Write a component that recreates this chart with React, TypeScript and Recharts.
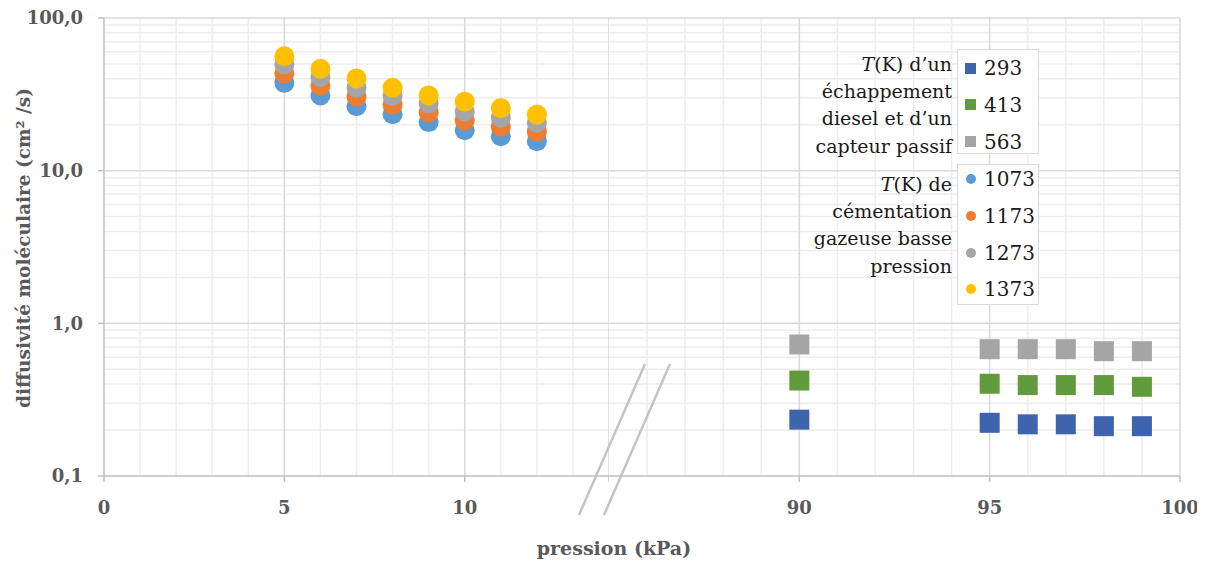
import { ReferenceLine, Scatter, ScatterChart, XAxis, YAxis } from "recharts";

// pressions basses (cémentation gazeuse basse pression)
const pressionBasse = [5, 6, 7, 8, 9, 10, 11, 12];
const d1073 = [37.6, 31.1, 26.4, 23.4, 20.8, 18.4, 16.8, 15.6];
const d1173 = [43.4, 36.0, 30.5, 27.0, 24.0, 21.3, 19.4, 18.0];
const d1273 = [49.7, 41.1, 34.9, 30.9, 27.5, 24.3, 22.2, 20.6];
const d1373 = [56.2, 46.5, 40.2, 34.9, 31.1, 28.3, 25.7, 23.3];

// pressions proches de l'atmosphère (échappement diesel, capteur passif)
const pressionHaute = [90, 95, 96, 97, 98, 99];
const d293 = [0.234, 0.223, 0.218, 0.218, 0.212, 0.212];
const d413 = [0.422, 0.402, 0.394, 0.394, 0.394, 0.384];
const d563 = [0.727, 0.677, 0.677, 0.677, 0.657, 0.657];

const yTicks = [0.1, 1, 10, 100];
const xTicksBas = [0, 5, 10, 14];
const xTicksHaut = [90, 95, 100];

const FONT = "'DejaVu Serif', serif";
const AXIS = "#BFBFBF";
const GRID = "#EDEDED";
const GRID_MAJ = "#D9D9D9";
const TXT = "#595959";

const seriesCercles = [
  { name: "1073", color: "#5B9BD5", values: d1073 },
  { name: "1173", color: "#ED7D31", values: d1173 },
  { name: "1273", color: "#A5A5A5", values: d1273 },
  { name: "1373", color: "#FFC000", values: d1373 },
];
const seriesCarres = [
  { name: "293", color: "#3F64AE", values: d293 },
  { name: "413", color: "#629B3E", values: d413 },
  { name: "563", color: "#A5A5A5", values: d563 },
];

const minorY = [0.1, 1, 10].flatMap((d) => [2, 3, 4, 5, 6, 7, 8, 9].map((k) => +(k * d).toFixed(2)));
const range = (a: number, b: number) => Array.from({ length: b - a + 1 }, (_, i) => a + i);

const fmtY = (v: number) => v.toFixed(1).replace(".", ",");
const tickStyle = { fill: TXT, fontSize: 18, fontWeight: 700, fontFamily: FONT };

const circle = (color: string) => (p: any) => <circle cx={p.cx} cy={p.cy} r={10} fill={color} />;
const square = (color: string) => (p: any) => <rect x={p.cx - 10} y={p.cy - 10} width={20} height={20} fill={color} />;

function Grid({ minorX, majorX }: { minorX: number[]; majorX: number[] }) {
  return (
    <>
      {minorX.map((v) => <ReferenceLine key={"mx" + v} x={v} stroke={GRID} strokeWidth={1.5} />)}
      {minorY.map((v) => <ReferenceLine key={"my" + v} y={v} stroke={GRID} strokeWidth={1.5} />)}
      {majorX.map((v) => <ReferenceLine key={"Mx" + v} x={v} stroke={GRID_MAJ} strokeWidth={1.5} />)}
      {[1, 10, 100].map((v) => <ReferenceLine key={"My" + v} y={v} stroke={GRID_MAJ} strokeWidth={1.5} />)}
    </>
  );
}

type LegendProps = {
  top: number;
  height: number;
  first: number;
  labelTop: number;
  label: string[];
  items: typeof seriesCarres;
  shape: "sq" | "ci";
};

function LegendBlock({ top, height, first, labelTop, label, items, shape }: LegendProps) {
  const step = 36.8;
  return (
    <>
      <div style={{ position: "absolute", left: 957, top, width: 82, height, border: "1.5px solid #D9D9D9", boxSizing: "border-box", background: "#fff" }}>
        {items.map((s, i) => (
          <div key={s.name} style={{ position: "absolute", left: 0, top: first + i * step - 15, height: 30, display: "flex", alignItems: "center", paddingLeft: shape === "sq" ? 7 : 8 }}>
            <span style={{ width: shape === "sq" ? 11 : 10, height: shape === "sq" ? 11 : 10, borderRadius: shape === "sq" ? 0 : "50%", background: s.color, display: "inline-block" }} />
            <span style={{ marginLeft: 8, fontSize: 20, color: "#1a1a1a" }}>{s.name}</span>
          </div>
        ))}
      </div>
      <div style={{ position: "absolute", right: 1205 - 952, top: labelTop, textAlign: "right", fontSize: 19, lineHeight: "27.2px", color: "#1a1a1a", whiteSpace: "nowrap" }}>
        {label.map((l, i) => (
          <div key={i}>{i === 0 ? <><i>T</i>{l}</> : l}</div>
        ))}
      </div>
    </>
  );
}

export default function App() {
  const bas = seriesCercles.map((s) => ({ ...s, data: pressionBasse.map((x, i) => ({ x, y: s.values[i] })) }));
  const haut = seriesCarres.map((s) => ({ ...s, data: pressionHaute.map((x, i) => ({ x, y: s.values[i] })) }));

  return (
    <div style={{ position: "relative", width: 1205, height: 563, margin: "-8px 0 0 -8px", background: "#fff", fontFamily: FONT, overflow: "hidden" }}>
      <div style={{ position: "absolute", left: 0, top: 0 }}>
        <ScatterChart width={609} height={563} margin={{ top: 18, right: 0, bottom: 0, left: 0 }}>
          <Grid minorX={range(1, 13)} majorX={[5, 10, 14]} />
          <XAxis type="number" dataKey="x" domain={[0, 14]} ticks={xTicksBas} height={87} stroke={AXIS} strokeWidth={1.5}
            tickSize={6} tickMargin={19} tick={tickStyle} tickFormatter={(v: number) => (v === 14 ? "" : String(v))} allowDataOverflow />
          <YAxis type="number" dataKey="y" scale="log" domain={[0.1, 100]} ticks={yTicks} width={104} stroke={AXIS} strokeWidth={1.5}
            tickSize={6} tickMargin={15} tick={tickStyle} tickFormatter={fmtY} allowDataOverflow />
          {bas.map((s) => (
            <Scatter key={s.name} name={s.name} data={s.data} fill={s.color} shape={circle(s.color)} isAnimationActive={false} />
          ))}
        </ScatterChart>
      </div>
      <div style={{ position: "absolute", left: 609, top: 0 }}>
        <ScatterChart width={596} height={563} margin={{ top: 18, right: 25, bottom: 0, left: 0 }}>
          <Grid minorX={range(86, 99).filter((v) => v % 5 !== 0)} majorX={[90, 95, 100]} />
          <XAxis type="number" dataKey="x" domain={[85, 100]} ticks={xTicksHaut} height={87} stroke={AXIS} strokeWidth={1.5}
            tickSize={6} tickMargin={19} tick={tickStyle} allowDataOverflow />
          <YAxis type="number" dataKey="y" scale="log" domain={[0.1, 100]} ticks={yTicks} hide allowDataOverflow />
          {haut.map((s) => (
            <Scatter key={s.name} name={s.name} data={s.data} fill={s.color} shape={square(s.color)} isAnimationActive={false} />
          ))}
        </ScatterChart>
      </div>

      {/* marque de rupture d'axe */}
      <svg width={1205} height={563} style={{ position: "absolute", left: 0, top: 0, pointerEvents: "none" }}>
        <line x1={645} y1={364} x2={579} y2={515} stroke="#C4C4C4" strokeWidth={2.5} />
        <line x1={670} y1={364} x2={604} y2={515} stroke="#C4C4C4" strokeWidth={2.5} />
      </svg>

      <LegendBlock top={49} height={105} first={18} labelTop={51} label={["(K) d’un", "échappement", "diesel et d’un", "capteur passif"]} items={seriesCarres} shape="sq" />
      <LegendBlock top={164} height={141} first={14} labelTop={171} label={["(K) de", "cémentation", "gazeuse basse", "pression"]} items={seriesCercles} shape="ci" />

      <div style={{ position: "absolute", left: 23, top: 248, transform: "translate(-50%, -50%) rotate(-90deg)", whiteSpace: "nowrap", fontSize: 18.5, fontWeight: 700, color: TXT }}>
        diffusivité moléculaire (cm² /s)
      </div>
      <div style={{ position: "absolute", left: 614, top: 548, transform: "translate(-50%, -50%)", whiteSpace: "nowrap", fontSize: 19, fontWeight: 700, color: TXT }}>
        pression (kPa)
      </div>
    </div>
  );
}
